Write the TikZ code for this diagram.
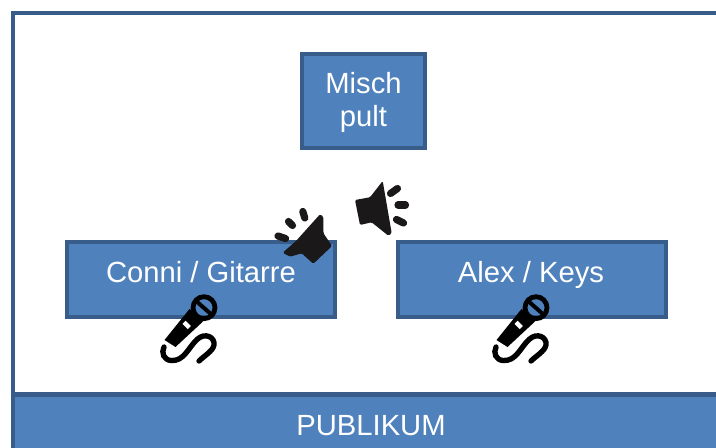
\documentclass[tikz,border=0pt]{standalone}
\usepackage{fontspec}
\setmainfont{Liberation Sans}
\definecolor{boxfill}{HTML}{4F81BD}
\definecolor{boxline}{HTML}{385D8A}
\definecolor{ink}{HTML}{1A1818}
\tikzset{
  x=0.75pt,y=-0.75pt,
  labeltext/.style={text=white,font=\fontsize{21.9}{24.6}\selectfont},
  bluebox/.style={draw=boxline,fill=boxfill,line width=3.2pt,align=center,inner sep=0pt,labeltext},
  ray/.style={draw=ink,line width=5.4pt,line cap=round},
  mic/.pic={
    \fill[black] (189.5,309) -- (203,321.5) -- (175.5,347) -- (164.5,340) -- cycle;
    \fill[white,rotate around={-45:(186.7,325)}] (183,322.8) rectangle (190.4,327.2);
    \draw[black,line width=3.6pt] (204,307.7) circle[radius=11];
    \draw[black,line width=3pt] (195.5,300.5) -- (212,315);
    \draw[black,line width=4pt,line cap=round] (164,347) .. controls (161,353) and (164,360) .. (171,360.5)
      .. controls (184,361.5) and (188,348) .. (197,339.5)
      .. controls (205,332) and (215,337) .. (214,345)
      .. controls (213,351) and (204,356) .. (199,361);
  }
}
\begin{document}
\begin{tikzpicture}
\useasboundingbox (0,0) rectangle (716,448);
\fill[white] (0,0) rectangle (716,448);
\coordinate (tl) at (13,13);
\coordinate (tr) at (716,13);
\coordinate (bl) at (13,448);
\draw[boxline,line width=3.6pt] (tr) -- (tl) -- (bl);
\node[bluebox,minimum width=123pt*0.75,minimum height=94pt*0.75] (misch) at (363.5,101) {};
\node[labeltext,anchor=base] (mischT) at (363.5,94) {Misch};
\node[labeltext,anchor=base] (pultT) at (363.5,127) {pult};
\node[bluebox,minimum width=268pt*0.75,minimum height=75pt*0.75] (conni) at (201,279.5) {};
\node[bluebox,minimum width=268pt*0.75,minimum height=75pt*0.75] (alex) at (532,279.5) {};
\node[labeltext,anchor=base] (conniT) at (201,282.5) {Conni / Gitarre};
\node[labeltext,anchor=base] (alexT) at (531,282.5) {Alex / Keys};
\fill[boxfill] (13,395) rectangle (716,448);
\draw[boxline,line width=3.6pt] (13,448) -- (13,394.5) -- (716,394.5);
\node[labeltext,anchor=base] (pub) at (371,435) {PUBLIKUM};
% speakers
\fill[ink,rounded corners=1pt] (355,200) -- (370,197.3) -- (382.7,181) -- (391.7,233.3) -- (388.3,235.7) -- (371.7,222.3) -- (360,225) -- cycle;
\draw[ray] (390.5,193.5) -- (397.5,188.5);
\draw[ray] (398,205) -- (405.5,205);
\draw[ray] (396.5,219.5) -- (403.5,223);
\fill[ink,rounded corners=1pt] (282.7,252.7) -- (296,241) -- (320,214.3) -- (323.3,216.7) -- (323.5,233.3) -- (332,246) -- (313.3,263.8) -- (301.7,253.3) -- (290,256.7) -- cycle;
\draw[ray] (278,236) -- (285.5,238.5);
\draw[ray] (288.5,221.5) -- (292.5,225.5);
\draw[ray] (302.8,211.5) -- (304.8,218);
% mics
\pic at (0,0) {mic};
\pic at (332,0) {mic};
\end{tikzpicture}
\end{document}
